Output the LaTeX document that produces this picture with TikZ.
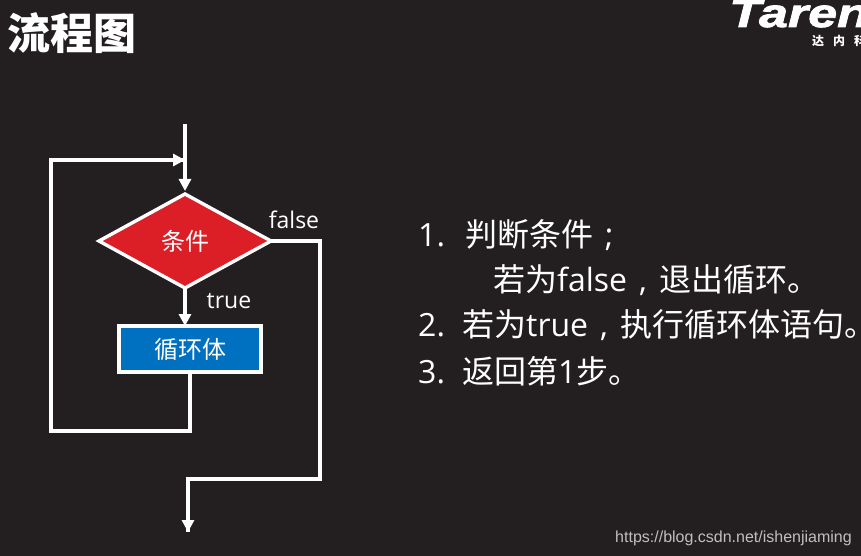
\documentclass[tikz,border=0pt]{standalone}
\usepackage{fontspec}
\setmainfont{Noto Sans CJK SC}
\newfontfamily\latfont{Open Sans}
\newfontfamily\logofont[BoldItalicFeatures={FakeBold=2,FakeStretch=1.3}]{Liberation Sans}
\newfontfamily\urlfont{Liberation Sans}
\usetikzlibrary{shapes.geometric,arrows.meta}
\definecolor{bgdark}{HTML}{231F20}
\definecolor{condred}{HTML}{DC1F26}
\definecolor{bodyblue}{HTML}{0070C0}
\newcommand{\px}[1]{\fontsize{#1}{#1}\selectfont}
\newcommand{\punc}[1]{\makebox[1em]{\latfont #1}}

\begin{document}
\begin{tikzpicture}[x=1pt,y=-1pt,
    link/.style={draw=white,line width=3.4pt,line join=miter},
    flow/.style={link,-{Triangle[length=12pt,width=12pt]}},
    cond/.style={diamond,draw=white,line width=3.4pt,fill=condred,text=white,
      minimum width=172pt,minimum height=94pt,inner sep=0pt,outer sep=0pt,font=\px{24}},
    loopbody/.style={rectangle,draw=white,line width=3.4pt,fill=bodyblue,text=white,
      minimum width=142pt,minimum height=46pt,inner sep=0pt,outer sep=0pt,font=\px{24}},
    tag/.style={text=white,inner sep=0pt,font=\latfont\px{23}},
    line/.style={anchor=base west,text=white,inner sep=0pt,font=\px{32}}]
\clip (0,0) rectangle (861,556);
\fill[bgdark] (0,0) rectangle (861,556);
% flow chart
\node[cond] (test) at (185,241) {\raisebox{-2pt}{条件}};
\node[loopbody] (body) at (190,349) {循环体};
\coordinate (start) at (185,124);
\coordinate (join) at (185,160);
\coordinate (corner1) at (190,431);
\coordinate (corner2) at (51,431);
\coordinate (corner3) at (51,160);
\coordinate (corner4) at (320,241);
\coordinate (corner5) at (320,479);
\coordinate (corner6) at (188,479);
\coordinate (finish) at (188,532);
\draw[flow,shorten >=3pt] (start) -- (test.north);
\draw[flow] (test.south) -- (test.south |- body.north);
\draw[link] (body.south -| corner1) -- (corner1) -- (corner2) -- (corner3) -- (join);
\draw[flow] (corner3) -- (join);
\draw[link] (test.east) -- (corner4) -- (corner5) -- (corner6) -- (finish);
\draw[flow] (corner6) -- (finish);
\node[tag] (falselabel) at (294,220) {false};
\node[tag] (truelabel) at (229,301) {true};
% text on the right
\node[line] (l1a) at (418,246) {{\latfont 1.}};
\node[line] (l1b) at (465,246) {判断条件\punc{;}};
\node[line] (l2) at (493,291) {若为{\latfont false}\punc{,}退出循环。};
\node[line] (l3a) at (418,336) {{\latfont 2.}};
\node[line] (l3b) at (462,336) {若为{\latfont true}\punc{,}执行循环体语句。};
\node[line] (l4a) at (418,383) {{\latfont 3.}};
\node[line] (l4b) at (462,383) {返回第{\latfont 1}步。};
% title, logo, address
\node[anchor=base west,text=white,inner sep=0pt,font=\bfseries\px{43}] (title) at (7,50) {流程图};
\node[anchor=base west,text=white,inner sep=0pt,font=\logofont\bfseries\itshape\px{40}] (logo) at (729,27) {Taren};
\node[anchor=base west,text=white,inner sep=0pt,font=\bfseries\px{12}] (sublogo) at (812,46) {达\hspace{9pt}内\hspace{9pt}科};
\node[anchor=base east,text=black!25,inner sep=0pt,font=\urlfont\px{16}] (url) at (852,542) {https://blog.csdn.net/ishenjiaming};
\end{tikzpicture}
\end{document}
